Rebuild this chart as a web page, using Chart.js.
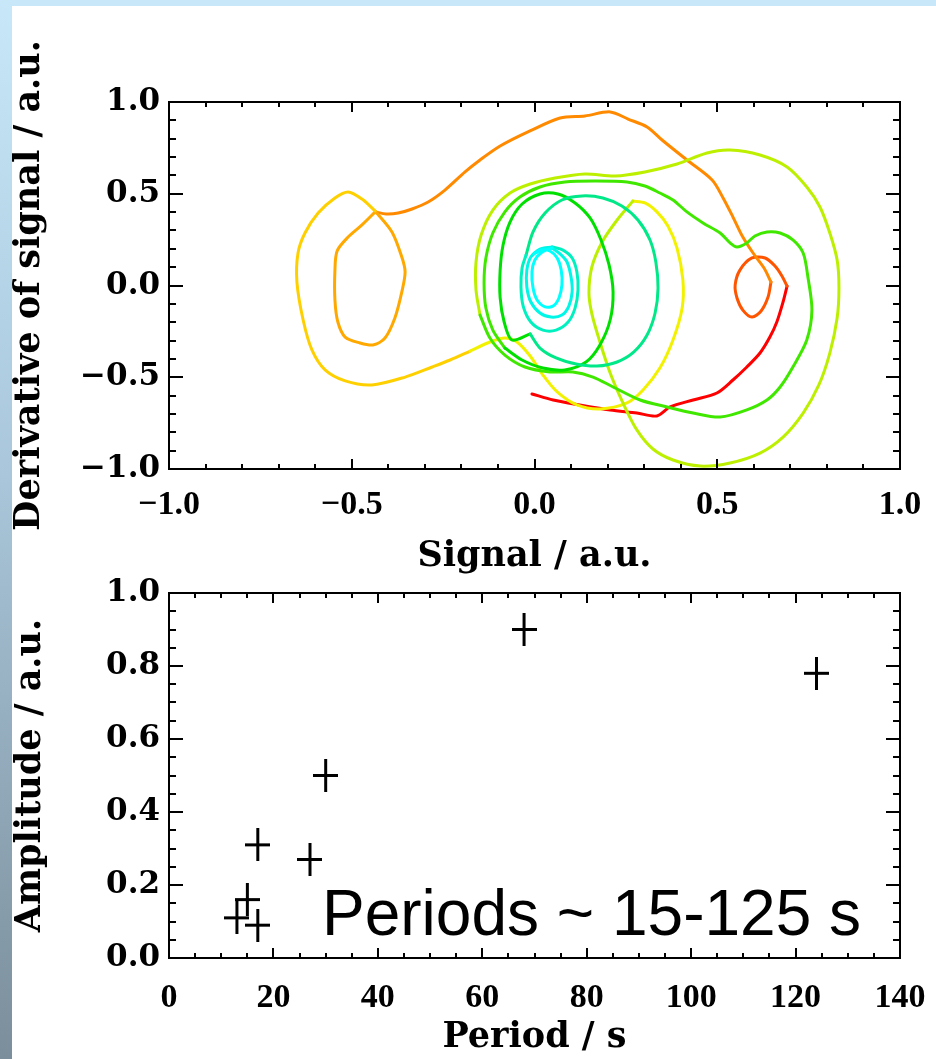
<!DOCTYPE html>
<html>
<head>
<meta charset="utf-8">
<script src="https://cdn.jsdelivr.net/npm/chart.js@4.4.0/dist/chart.umd.min.js"></script>
<style>
  html, body { margin: 0; padding: 0; background: #fff; }
  body { width: 936px; height: 1059px; position: relative; overflow: hidden; }
  #topStrip { position: absolute; left: 0; top: 0; width: 936px; height: 6px; background: #c8e8f9; }
  #leftStrip { position: absolute; left: 0; top: 0; width: 12px; height: 1059px;
    background: linear-gradient(#c8e8f9, #a9c6da 45%, #7b8e9b); }
  .plot { position: absolute; left: 0; }
  #note { position: absolute; left: 322px; top: 881px; color: #000; white-space: nowrap;
    font: 64px/1 "Liberation Sans", Arial, sans-serif; }
</style>
</head>
<body>
<div id="topStrip"></div>
<div id="leftStrip"></div>
<canvas id="phase-chart" class="plot" width="936" height="580" style="top:0"></canvas>
<canvas id="period-chart" class="plot" width="936" height="499" style="top:560px"></canvas>
<div id="note">Periods ~ 15-125 s</div>

<script>
// phase-space trajectory [signal, derivative], split where the colour changes
const spiralInner = [[-0.001,0.172],[0.018,0.193],[0.042,0.188],[0.062,0.150],[0.073,0.084],[0.075,0.003],[0.067,-0.068],[0.051,-0.112],[0.029,-0.117],[0.007,-0.079],[-0.004,-0.014],[-0.007,0.074],[0.001,0.139],[0.021,0.183],[0.048,0.204]];
const spiralMid = [[0.070,0.172],[0.089,0.128],[0.100,0.046],[0.103,-0.035],[0.094,-0.112],[0.075,-0.161],[0.045,-0.172],[0.015,-0.150],[-0.010,-0.090],[-0.021,-0.008],[-0.021,0.084],[-0.010,0.155],[0.015,0.199],[0.048,0.210]];
const spiralOuter = [[0.078,0.193],[0.103,0.150],[0.116,0.074],[0.119,-0.025],[0.111,-0.123],[0.092,-0.199],[0.059,-0.243],[0.023,-0.243],[-0.010,-0.199],[-0.031,-0.112],[-0.037,-0.008],[-0.034,0.095],[-0.023,0.166]];
const loopTealGreen = [[-0.004,0.292],[0.029,0.395],[0.075,0.466],[0.130,0.488],[0.187,0.477],[0.239,0.433],[0.283,0.357],[0.316,0.248],[0.332,0.128],[0.338,-0.014],[0.330,-0.150],[0.308,-0.270],[0.272,-0.362],[0.226,-0.417],[0.171,-0.439],[0.114,-0.428],[0.059,-0.395],[0.015,-0.341],[-0.012,-0.264]];
const loopGreen = [[-0.062,-0.297],[-0.083,-0.199],[-0.094,-0.068],[-0.094,0.084],[-0.086,0.221],[-0.067,0.346],[-0.034,0.444],[0.015,0.499],[0.064,0.499],[0.111,0.450],[0.152,0.368],[0.182,0.248],[0.204,0.112],[0.215,-0.035],[0.207,-0.188],[0.179,-0.324],[0.141,-0.417],[0.083,-0.460],[0.023,-0.450],[-0.034,-0.406],[-0.081,-0.341]];
const loopGreenBump = [[-0.114,-0.243],[-0.133,-0.123],[-0.138,0.014],[-0.133,0.150],[-0.114,0.286],[-0.081,0.401],[-0.040,0.482],[0.015,0.537],[0.083,0.564],[0.166,0.569],[0.253,0.564],[0.302,0.542],[0.343,0.504],[0.379,0.466],[0.417,0.401],[0.461,0.341],[0.508,0.286],[0.535,0.232],[0.554,0.210],[0.581,0.232],[0.603,0.270],[0.636,0.292],[0.672,0.286],[0.707,0.248],[0.735,0.177],[0.748,0.046],[0.759,-0.134],[0.745,-0.297],[0.707,-0.444],[0.672,-0.553],[0.636,-0.624],[0.581,-0.678],[0.508,-0.717],[0.434,-0.695],[0.363,-0.662],[0.289,-0.624],[0.215,-0.553],[0.160,-0.499],[0.105,-0.471],[0.042,-0.471],[-0.026,-0.444],[-0.081,-0.379],[-0.122,-0.286],[-0.149,-0.161]];
const loopYellowGreen = [[-0.160,-0.025],[-0.160,0.128],[-0.146,0.275],[-0.114,0.411],[-0.067,0.504],[-0.012,0.553],[0.056,0.586],[0.138,0.608],[0.220,0.597],[0.302,0.619],[0.390,0.662],[0.472,0.722],[0.535,0.738],[0.617,0.711],[0.691,0.646],[0.745,0.537],[0.781,0.428],[0.808,0.286],[0.828,0.139],[0.833,-0.014],[0.828,-0.177],[0.808,-0.368],[0.778,-0.542],[0.735,-0.695],[0.680,-0.826],[0.617,-0.913],[0.535,-0.967],[0.453,-0.984],[0.379,-0.951],[0.324,-0.891],[0.280,-0.787],[0.242,-0.640],[0.207,-0.477],[0.179,-0.308],[0.157,-0.155],[0.149,-0.041],[0.157,0.101],[0.185,0.237],[0.226,0.357],[0.269,0.460]];
const loopYellow = [[0.302,0.450],[0.335,0.401],[0.365,0.324],[0.390,0.204],[0.406,0.030],[0.404,-0.123],[0.379,-0.297],[0.343,-0.450],[0.297,-0.569],[0.253,-0.640],[0.179,-0.673],[0.116,-0.651],[0.062,-0.580],[0.023,-0.488],[-0.012,-0.384],[-0.048,-0.308],[-0.081,-0.286],[-0.122,-0.308],[-0.176,-0.357]];
const loopGold = [[-0.231,-0.406],[-0.280,-0.444],[-0.354,-0.499],[-0.445,-0.542],[-0.518,-0.520],[-0.573,-0.460],[-0.609,-0.351],[-0.633,-0.188],[-0.650,0.019],[-0.647,0.177],[-0.628,0.286],[-0.592,0.395],[-0.546,0.477],[-0.510,0.510],[-0.472,0.471],[-0.436,0.406]];
const loopOrange = [[-0.390,0.292],[-0.363,0.155],[-0.354,0.074],[-0.363,-0.035],[-0.382,-0.177],[-0.409,-0.286],[-0.442,-0.324],[-0.478,-0.313],[-0.518,-0.281],[-0.538,-0.199],[-0.546,-0.079],[-0.546,0.084],[-0.540,0.188],[-0.510,0.264],[-0.472,0.330],[-0.436,0.401]];
const arcOrange = [[-0.406,0.390],[-0.373,0.395],[-0.335,0.417],[-0.291,0.455],[-0.245,0.520],[-0.190,0.619],[-0.149,0.684],[-0.094,0.760],[-0.018,0.837],[0.070,0.913],[0.138,0.924],[0.207,0.946],[0.256,0.907],[0.308,0.864],[0.349,0.793],[0.417,0.684],[0.486,0.575],[0.516,0.477],[0.543,0.373],[0.570,0.264],[0.598,0.177],[0.628,0.095],[0.647,0.019]];
const loopOrangeRed = [[0.639,-0.063],[0.620,-0.139],[0.595,-0.172],[0.570,-0.134],[0.554,-0.068],[0.549,0.003],[0.562,0.084],[0.595,0.150],[0.631,0.150],[0.658,0.106],[0.677,0.052],[0.691,-0.003]];
const tailRed = [[0.680,-0.090],[0.663,-0.199],[0.644,-0.281],[0.617,-0.368],[0.581,-0.444],[0.543,-0.515],[0.499,-0.586],[0.434,-0.624],[0.371,-0.662],[0.335,-0.711],[0.280,-0.695],[0.207,-0.678],[0.124,-0.651],[0.051,-0.624],[-0.007,-0.591]];

const trajectory = [spiralInner, spiralMid, spiralOuter, loopTealGreen, loopGreen, loopGreenBump,
  loopYellowGreen, loopYellow, loopGold, loopOrange, arcOrange, loopOrangeRed, tailRed];
const trajectoryColors = ['#00ffff', '#00f6e6', '#00f0c0', '#00e888', '#00e000', '#40e800',
  '#bcf000', '#f2f200', '#ffd000', '#ffa800', '#ff8a00', '#ff5500', '#ff0000'];

const signalTicks = [-1, -0.5, 0, 0.5, 1];
const derivativeTicks = [-1, -0.5, 0, 0.5, 1];

// period vs amplitude
const periods = [68, 124, 30, 17, 27, 15, 13, 17];
const amplitudes = [0.90, 0.78, 0.50, 0.31, 0.27, 0.16, 0.11, 0.09];
const periodTicks = [0, 20, 40, 60, 80, 100, 120, 140];
const amplitudeTicks = [0, 0.2, 0.4, 0.6, 0.8, 1.0];

Chart.defaults.color = '#000';

const yTickFont = { family: 'DejaVu Serif', weight: 'bold', size: 31 };
const xTickFont = { family: 'Liberation Serif', weight: 'bold', size: 34 };
const titleFont = { family: 'DejaVu Serif', weight: 'bold', size: 35 };

// box around the plot with IDL style ticks pointing inwards on all four sides
const boxTicks = {
    id: 'boxTicks',
    afterDatasetsDraw(chart, args, opts) {
        const { ctx, chartArea: a, scales: { x, y } } = chart;
        ctx.save();
        ctx.strokeStyle = '#000';
        ctx.lineWidth = 2;
        ctx.strokeRect(a.left, a.top, a.right - a.left, a.bottom - a.top);

        const marks = (scale, step, len, vertical) => {
            const n = Math.round((scale.max - scale.min) / step);
            ctx.beginPath();
            for (let i = 1; i < n; i++) {
                const p = Math.round(scale.getPixelForValue(scale.min + i * step));
                if (vertical) {
                    ctx.moveTo(p, a.bottom); ctx.lineTo(p, a.bottom - len);
                    ctx.moveTo(p, a.top); ctx.lineTo(p, a.top + len);
                } else {
                    ctx.moveTo(a.left, p); ctx.lineTo(a.left + len, p);
                    ctx.moveTo(a.right, p); ctx.lineTo(a.right - len, p);
                }
            }
            ctx.stroke();
        };
        marks(x, opts.xMinor, 5, true);
        marks(x, opts.xMajor, 10, true);
        marks(y, opts.yMinor, 7, false);
        marks(y, opts.yMajor, 14, false);
        ctx.restore();
    }
};

function fmt(v) {
    return v.toFixed(1).replace('-', '\u2212');
}

function makeCross(w, h, lw) {
    const c = document.createElement('canvas');
    c.width = w;
    c.height = h;
    const g = c.getContext('2d');
    g.fillStyle = '#000';
    g.fillRect(0, Math.round((h - lw) / 2), w, lw);
    g.fillRect(Math.round((w - lw) / 2), 0, lw, h);
    return c;
}

// fixed axis sizes, no extra room for labels hanging over the ends
function fixX(h) {
    return s => { s.height = h; s.paddingLeft = 0; s.paddingRight = 0; };
}
function fixY(w) {
    return s => { s.width = w; s.paddingTop = 0; s.paddingBottom = 0; };
}

const noGrid = { display: false, drawTicks: false };

const phaseDatasets = trajectory.map((piece, i) => {
    const pts = i > 0 ? [trajectory[i - 1][trajectory[i - 1].length - 1]].concat(piece) : piece;
    return {
        data: pts.map(p => ({ x: p[0], y: p[1] })),
        showLine: true,
        borderColor: trajectoryColors[i],
        borderWidth: 3,
        pointRadius: 0,
        tension: 0.3,
        borderCapStyle: 'round',
        borderJoinStyle: 'round'
    };
});

new Chart(document.getElementById('phase-chart'), {
    type: 'scatter',
    data: { datasets: phaseDatasets },
    options: {
        responsive: false,
        animation: false,
        layout: { padding: { top: 102, right: 36, bottom: 0, left: 0 } },
        plugins: {
            legend: { display: false },
            tooltip: { enabled: false },
            boxTicks: { xMinor: 0.1, xMajor: 0.5, yMinor: 0.1, yMajor: 0.5 }
        },
        scales: {
            x: {
                min: -1, max: 1,
                grid: noGrid,
                border: { display: false },
                afterBuildTicks: s => { s.ticks = signalTicks.map(v => ({ value: v })); },
                afterFit: fixX(111),
                ticks: { font: xTickFont, padding: 16, maxRotation: 0, callback: v => fmt(v) },
                title: { display: true, text: 'Signal / a.u.', font: titleFont, padding: { top: 0, bottom: 2 } }
            },
            y: {
                min: -1, max: 1,
                grid: noGrid,
                border: { display: false },
                afterBuildTicks: s => { s.ticks = derivativeTicks.map(v => ({ value: v })); },
                afterFit: fixY(169),
                ticks: { font: yTickFont, padding: 9, callback: v => fmt(v) },
                title: { display: true, text: 'Derivative of signal / a.u.', font: titleFont, padding: { top: 9, bottom: 0 } }
            }
        }
    },
    plugins: [boxTicks]
});

new Chart(document.getElementById('period-chart'), {
    type: 'scatter',
    data: {
        datasets: [{
            data: periods.map((p, i) => ({ x: p, y: amplitudes[i] })),
            pointStyle: makeCross(25, 33, 3),
            pointRadius: 12
        }]
    },
    options: {
        responsive: false,
        animation: false,
        layout: { padding: { top: 33, right: 36, bottom: 0, left: 0 } },
        plugins: {
            legend: { display: false },
            tooltip: { enabled: false },
            boxTicks: { xMinor: 5, xMajor: 20, yMinor: 0.05, yMajor: 0.2 }
        },
        scales: {
            x: {
                min: 0, max: 140,
                grid: noGrid,
                border: { display: false },
                afterBuildTicks: s => { s.ticks = periodTicks.map(v => ({ value: v })); },
                afterFit: fixX(101),
                ticks: { font: xTickFont, padding: 20, maxRotation: 0, callback: v => String(v) },
                title: { display: true, text: 'Period / s', font: titleFont, padding: { top: 0, bottom: 0 } }
            },
            y: {
                min: 0, max: 1,
                grid: noGrid,
                border: { display: false },
                afterBuildTicks: s => { s.ticks = amplitudeTicks.map(v => ({ value: v })); },
                afterFit: fixY(169),
                ticks: { font: yTickFont, padding: 9, callback: v => fmt(v) },
                title: { display: true, text: 'Amplitude / a.u.', font: titleFont, padding: { top: 10, bottom: 0 } }
            }
        }
    },
    plugins: [boxTicks]
});
</script>
</body>
</html>
